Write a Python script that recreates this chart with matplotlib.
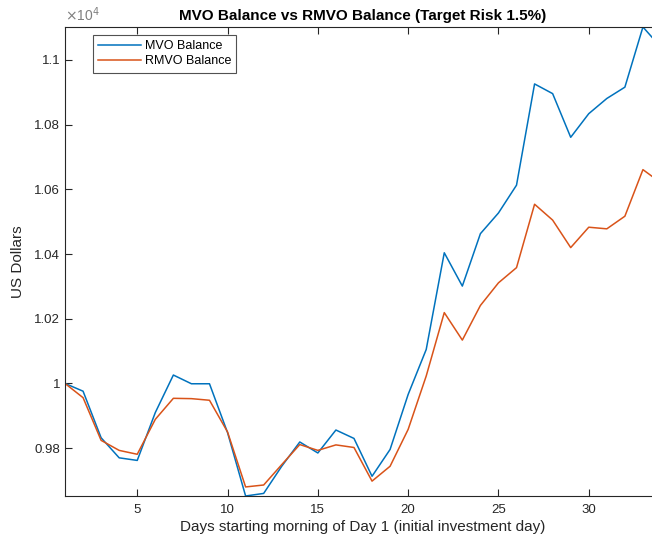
import matplotlib.pyplot as plt
from matplotlib.ticker import FuncFormatter

plt.rcParams['font.family'] = ['Liberation Sans', 'DejaVu Sans']

# Daily balances
days = list(range(1, 35))
mvo_balance = [10000, 9976, 9832, 9770, 9762, 9910, 10026, 9999, 9999, 9848,
               9652, 9660, 9744, 9819, 9785, 9856, 9830, 9713, 9796, 9966,
               10105, 10404, 10301, 10463, 10527, 10613, 10926, 10896, 10761, 10834,
               10881, 10916, 11102, 11039]
rmvo_balance = [10000, 9956, 9824, 9793, 9781, 9889, 9954, 9953, 9948, 9850,
                9680, 9686, 9749, 9811, 9793, 9810, 9802, 9698, 9744, 9858,
                10023, 10219, 10134, 10241, 10311, 10358, 10554, 10505, 10420, 10483,
                10478, 10517, 10661, 10620]
y_ticks = [9800, 10000, 10200, 10400, 10600, 10800, 11000]
x_ticks = [5, 10, 15, 20, 25, 30]

W, H = 652, 545
fig = plt.figure(figsize=(W / 100, H / 100), dpi=100)
# axes run a bit past the right edge of the picture, like the reference crop
left, right, top, bottom = 65, 661, 27, 496
ax = fig.add_axes([left / W, 1 - bottom / H, (right - left) / W, (bottom - top) / H])

ax.plot(days, mvo_balance, color='#0072BD', linewidth=1.1, label='MVO Balance')
ax.plot(days, rmvo_balance, color='#D95319', linewidth=1.1, label='RMVO Balance')

ax.set_xlim(days[0], days[-1])
ax.set_ylim(min(mvo_balance + rmvo_balance), max(mvo_balance + rmvo_balance))
ax.set_xticks(x_ticks)
ax.set_yticks(y_ticks)
ax.yaxis.set_major_formatter(FuncFormatter(lambda v, p: '%g' % (v / 1e4)))

dark = '#262626'
for s in ax.spines.values():
    s.set_color(dark)
    s.set_linewidth(0.8)
ax.tick_params(direction='in', length=5, width=0.8, colors=dark, labelsize=9.5,
               top=True, right=True)
ax.tick_params(axis='x', pad=6)

ax.text(0.0, 1.006, r'$\times$10$^{4}$', transform=ax.transAxes, fontsize=10,
        color='#7f7f7f', ha='left', va='bottom')
ax.set_title('MVO Balance vs RMVO Balance (Target Risk 1.5%)', fontsize=11,
             fontweight='bold', color='black', pad=5)
ax.set_xlabel('Days starting morning of Day 1 (initial investment day)', fontsize=11,
              color=dark, labelpad=3)
ax.set_ylabel('US Dollars', fontsize=11, color=dark, labelpad=7)

leg = ax.legend(loc='upper left', bbox_to_anchor=(0.047, 0.983), borderaxespad=0,
                fontsize=9, frameon=True, fancybox=False, edgecolor=dark,
                handlelength=3.4, handletextpad=0.3, borderpad=0.42, labelspacing=0.25)
leg.get_frame().set_linewidth(0.8)

fig.savefig('out.png', dpi=100)
